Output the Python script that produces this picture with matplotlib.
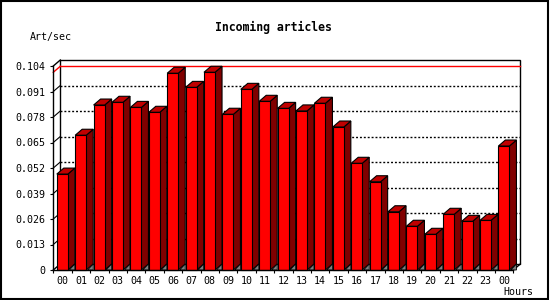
import matplotlib
matplotlib.use("Agg")
import matplotlib.pyplot as plt
from matplotlib.patches import Rectangle, Polygon

hours = ["00", "01", "02", "03", "04", "05", "06", "07", "08", "09", "10", "11",
         "12", "13", "14", "15", "16", "17", "18", "19", "20", "21", "22", "23", "00"]
art_sec = [0.0489, 0.0687, 0.0841, 0.0855, 0.0829, 0.0804, 0.1003, 0.0931,
           0.1008, 0.0794, 0.0921, 0.0860, 0.0824, 0.0811, 0.0850, 0.0729,
           0.0544, 0.0450, 0.0297, 0.0223, 0.0182, 0.0284, 0.0248, 0.0253, 0.0632]
yticks = [0, 0.013, 0.026, 0.039, 0.052, 0.065, 0.078, 0.091, 0.104]
ymax = 0.104

W, H = 550, 300
fig = plt.figure(figsize=(5.5, 3), dpi=100)
fig.patch.set_facecolor("white")

# front plane of the 3d box, in pixels
left, right, bottom, top = 53.3, 513.3, 270, 66
ax = fig.add_axes([left / W, (H - bottom) / H, (right - left) / W, (bottom - top) / H])
n = len(art_sec)
ax.set_xlim(0, n)
ax.set_ylim(0, ymax)
ax.set_facecolor("none")

# depth in data units (7px right, 6px up)
dx = 7 / ((right - left) / n)
dy = 6 / ((bottom - top) / ymax)

mono = "DejaVu Sans Mono"
fs = 7.2

# back wall
ax.add_patch(Rectangle((dx, dy), n, ymax, facecolor="white", edgecolor="black",
                       lw=1, zorder=0, clip_on=False))
for yy in [0, ymax]:
    ax.plot([0, dx], [yy, yy + dy], color="black", lw=1, zorder=0.5, clip_on=False)
ax.plot([n, n + dx], [0, dy], color="black", lw=1, zorder=0.5, clip_on=False)

# dotted grid on the back wall
for t in yticks[1:-1]:
    ax.plot([dx, n + dx], [t + dy, t + dy], color="black", lw=1,
            dashes=(1.4, 1.4), zorder=1, clip_on=False)
    ax.plot([0, dx], [t, t + dy], color="black", lw=0.8, zorder=1, clip_on=False)

# red line at the maximum
vmax = max(art_sec)
ax.plot([dx, n + dx], [vmax + dy, vmax + dy], color="red", lw=1, zorder=1.5, clip_on=False)
ax.plot([0, dx], [vmax, vmax + dy], color="red", lw=1, zorder=1.5, clip_on=False)

# bars with a 3d look
bw = 0.6
for i, v in enumerate(art_sec):
    x0 = i + 0.19
    x1 = x0 + bw
    side = Polygon([(x1, 0), (x1 + dx, dy), (x1 + dx, v + dy), (x1, v)],
                   facecolor="#800000", edgecolor="black", lw=0.8, zorder=2, clip_on=False)
    topf = Polygon([(x0, v), (x1, v), (x1 + dx, v + dy), (x0 + dx, v + dy)],
                   facecolor="#c00000", edgecolor="black", lw=0.8, zorder=2, clip_on=False)
    shade = Polygon([(x1 + dx * 0.2, 0), (x1 + dx, dy), (x1 + dx, 0)],
                    facecolor="#808080", edgecolor="black", lw=0.6, zorder=2.5, clip_on=False)
    ax.add_patch(side)
    ax.add_patch(topf)
    ax.add_patch(shade)
ax.bar([i + 0.19 for i in range(n)], art_sec, width=bw, align="edge",
       color="#ff0000", edgecolor="black", lw=0.8, zorder=3, clip_on=False)

for s in ["top", "right"]:
    ax.spines[s].set_visible(False)
for s in ["left", "bottom"]:
    ax.spines[s].set_linewidth(1)
    ax.spines[s].set_zorder(4)

ax.set_yticks(yticks)
ax.set_yticklabels(["0" if t == 0 else "%.3f" % t for t in yticks],
                   fontfamily=mono, fontsize=fs)
ax.tick_params(axis="y", length=2.5, width=0.8, pad=3.5)

ax.set_xticks(range(n + 1))
ax.set_xticklabels([])
ax.set_xticks([i + 0.5 for i in range(n)], minor=True)
ax.set_xticklabels(hours, minor=True, fontfamily=mono, fontsize=fs)
ax.tick_params(axis="x", which="major", length=2.5, width=0.8)
ax.tick_params(axis="x", which="minor", length=0, pad=4)

fig.text(273.5 / W, 1 - 27 / H, "Incoming articles", ha="center", va="center",
         fontfamily=mono, fontsize=8.3, fontweight="bold")
fig.text(30 / W, 1 - 37 / H, "Art/sec", ha="left", va="center",
         fontfamily=mono, fontsize=fs)
fig.text(533 / W, 1 - 292 / H, "Hours", ha="right", va="center",
         fontfamily=mono, fontsize=fs)

# outer frame
fig.patches.append(Rectangle((0.5 / W, 1.5 / H), 547.5 / W, 297.5 / H,
                             transform=fig.transFigure, fill=False,
                             edgecolor="black", lw=1.5))

fig.savefig("out.png", dpi=100)
